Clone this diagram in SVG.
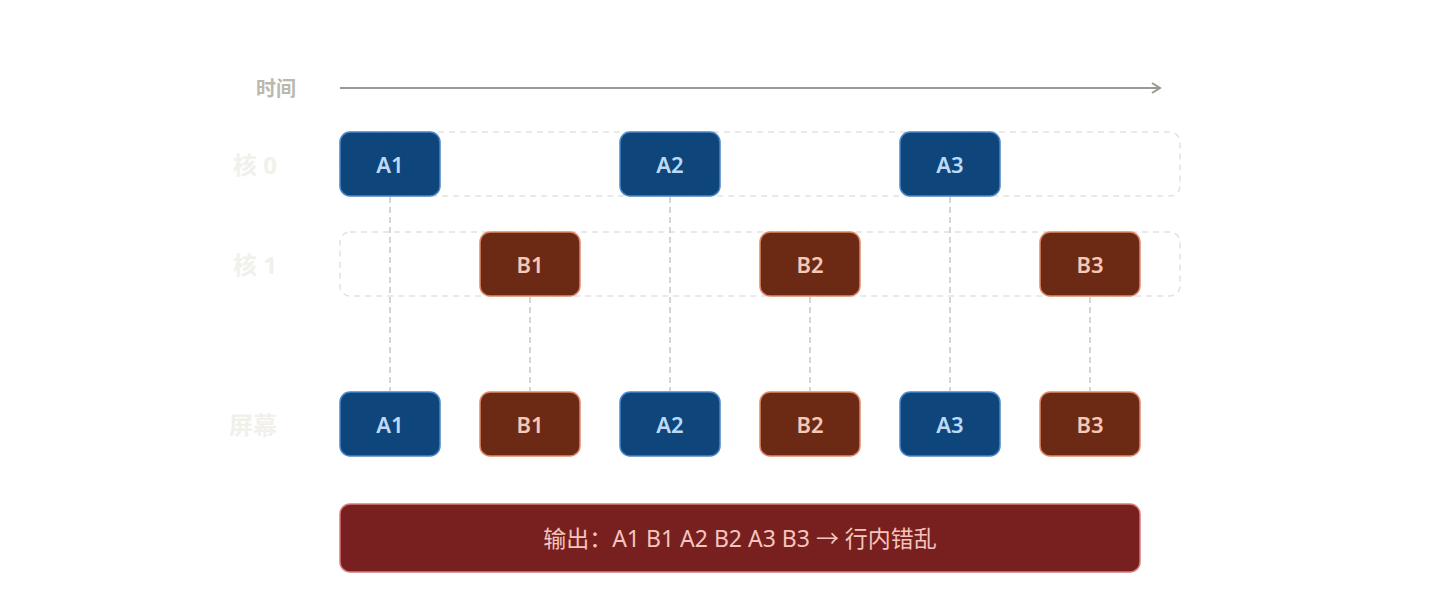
<svg xmlns="http://www.w3.org/2000/svg" width="1440" height="600" viewBox="0 0 1440 600">
<defs>
<style>
text{font-family:"Noto Sans","Noto Sans CJK SC",sans-serif;text-anchor:middle;dominant-baseline:central}
.lane{fill:none;stroke:#e2e2e2;stroke-width:1.5;stroke-dasharray:6 5}
.a rect{fill:#0e467c;stroke:#4a88c8;stroke-width:1.5}
.a text{fill:#bcd9f5;font-size:22px;font-weight:600}
.b rect{fill:#6c2a15;stroke:#e08a6a;stroke-width:1.5}
.b text{fill:#f6c9b4;font-size:22px;font-weight:600}
.lbl{fill:#f1f0eb;font-size:24px;font-weight:700}
.v{stroke:#c8c8c8;stroke-width:1.5;stroke-dasharray:6 4}
</style>
<marker id="ar" markerWidth="12" markerHeight="12" refX="10" refY="6" orient="auto" markerUnits="userSpaceOnUse"><path d="M2,1 L10,6 L2,11" fill="none" stroke="#9a9a92" stroke-width="2"/></marker>
</defs>
<text x="276" y="88" fill="#bbb8b0" font-size="20" font-weight="600">时间</text>
<text class="lbl" x="255" y="164">核 0</text>
<text class="lbl" x="255" y="264">核 1</text>
<text class="lbl" x="253" y="424">屏幕</text>
<rect class="lane" x="340" y="132" width="840" height="64" rx="10"/>
<rect class="lane" x="340" y="232" width="840" height="64" rx="10"/>
<g id="connectors">
<line x1="340" y1="88" x2="1160" y2="88" stroke="#9a9a92" stroke-width="2" marker-end="url(#ar)"/>
<line class="v" x1="390" y1="197" x2="390" y2="391"/>
<line class="v" x1="670" y1="197" x2="670" y2="391"/>
<line class="v" x1="950" y1="197" x2="950" y2="391"/>
<line class="v" x1="530" y1="297" x2="530" y2="391"/>
<line class="v" x1="810" y1="297" x2="810" y2="391"/>
<line class="v" x1="1090" y1="297" x2="1090" y2="391"/>
</g>
<g id="a1" class="a"><rect x="340" y="132" width="100" height="64" rx="10"/><text x="390" y="164">A1</text></g>
<g id="a2" class="a"><rect x="620" y="132" width="100" height="64" rx="10"/><text x="670" y="164">A2</text></g>
<g id="a3" class="a"><rect x="900" y="132" width="100" height="64" rx="10"/><text x="950" y="164">A3</text></g>
<g id="b1" class="b"><rect x="480" y="232" width="100" height="64" rx="10"/><text x="530" y="264">B1</text></g>
<g id="b2" class="b"><rect x="760" y="232" width="100" height="64" rx="10"/><text x="810" y="264">B2</text></g>
<g id="b3" class="b"><rect x="1040" y="232" width="100" height="64" rx="10"/><text x="1090" y="264">B3</text></g>
<g id="sa1" class="a"><rect x="340" y="392" width="100" height="64" rx="10"/><text x="390" y="424">A1</text></g>
<g id="sb1" class="b"><rect x="480" y="392" width="100" height="64" rx="10"/><text x="530" y="424">B1</text></g>
<g id="sa2" class="a"><rect x="620" y="392" width="100" height="64" rx="10"/><text x="670" y="424">A2</text></g>
<g id="sb2" class="b"><rect x="760" y="392" width="100" height="64" rx="10"/><text x="810" y="424">B2</text></g>
<g id="sa3" class="a"><rect x="900" y="392" width="100" height="64" rx="10"/><text x="950" y="424">A3</text></g>
<g id="sb3" class="b"><rect x="1040" y="392" width="100" height="64" rx="10"/><text x="1090" y="424">B3</text></g>
<g id="output"><rect x="340" y="504" width="800" height="68" rx="10" fill="#781f20" stroke="#d87c78" stroke-width="1.5"/><text x="740" y="538" fill="#f5c4bc" font-size="23">输出：A1 B1 A2 B2 A3 B3 → 行内错乱</text></g>
</svg>
